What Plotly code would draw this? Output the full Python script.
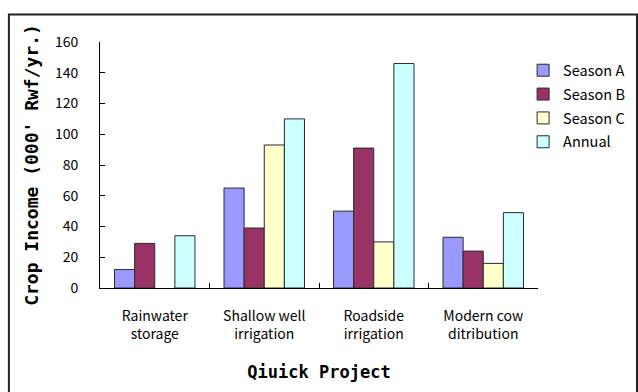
import plotly.graph_objects as go

# Crop income per quick-win project, by season (thousand Rwf per year)
projects = ["Rainwater<br>storage", "Shallow well<br>irrigation",
            "Roadside<br>irrigation", "Modern cow<br>ditribution"]
season_a = [12, 65, 50, 33]
season_b = [29, 39, 91, 24]
season_c = [None, 93, 30, 16]
annual = [34, 110, 146, 49]

series = [
    ("Season A", season_a, "#9999FF"),
    ("Season B", season_b, "#993366"),
    ("Season C", season_c, "#FFFFCC"),
    ("Annual", annual, "#CCFFFF"),
]

FONT = "Noto Sans CJK JP"
TITLE_FONT = "DejaVu Sans Mono"

fig = go.Figure()
for name, vals, color in series:
    fig.add_trace(go.Bar(
        x=projects, y=vals, name=name, legendgroup=name,
        marker=dict(color=color, line=dict(color="#2a2a2a", width=1)),
    ))

fig.update_layout(
    width=638, height=392,
    margin=dict(l=100, r=100, t=42, b=104, autoexpand=False),
    paper_bgcolor="white", plot_bgcolor="white",
    barmode="group", bargap=0.265, bargroupgap=0,
    font=dict(family=FONT, size=14, color="black"),
    legend=dict(x=0.966, y=0.95, xanchor="left", yanchor="top",
                font=dict(family=FONT, size=14.5), tracegroupgap=2,
                itemwidth=30, bgcolor="rgba(0,0,0,0)"),
    xaxis=dict(
        showline=True, linecolor="black", linewidth=1,
        ticks="inside", ticklen=5, tickcolor="black",
        tickson="boundaries", ticklabelstandoff=15,
        tickfont=dict(family=FONT, size=14),
        title=dict(text="<b>Qiuick Project</b>", standoff=24,
                   font=dict(family=TITLE_FONT, size=17)),
    ),
    yaxis=dict(
        range=[0, 160], dtick=20,
        showline=True, linecolor="black", linewidth=1,
        ticks="inside", ticklen=5, tickcolor="black",
        showgrid=False, zeroline=False, ticklabelstandoff=18,
        tickfont=dict(family=FONT, size=14),
        title=dict(text="<b>Crop Income (000' Rwf/yr.)</b>", standoff=11,
                   font=dict(family=TITLE_FONT, size=18)),
    ),
    shapes=[dict(type="rect", xref="paper", yref="paper",
                 x0=-0.208, x1=1.226, y0=-0.5, y1=1.112,
                 line=dict(color="#222222", width=2), layer="below")],
)

fig.write_html("out.html")
